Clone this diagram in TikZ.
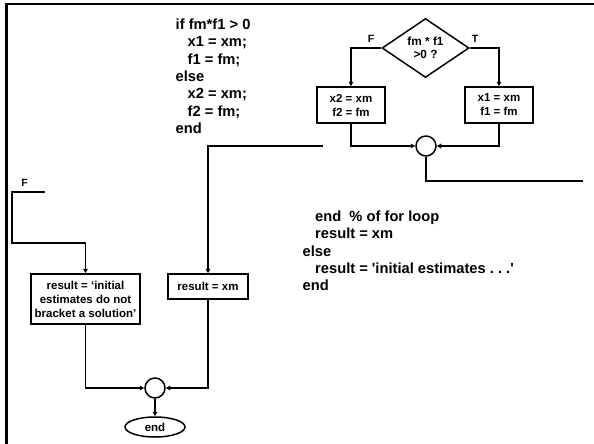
\documentclass[tikz,border=0pt]{standalone}
\usepackage{fontspec}
\setmainfont{Liberation Sans}
\usetikzlibrary{shapes.geometric, arrows.meta, positioning}

\tikzset{
  flowbox/.style={draw, line width=1.5pt, align=center, inner sep=0pt, font=\bfseries\fontsize{11.5}{14}\selectfont},
  decision/.style={draw, diamond, line width=1.5pt, align=center, inner sep=0pt, font=\bfseries\fontsize{11.8}{12.8}\selectfont},
  joint/.style={draw, circle, line width=1.5pt, inner sep=0pt, minimum size=20pt},
  terminal/.style={draw, ellipse, line width=1.5pt, inner sep=0pt, minimum width=60pt, minimum height=20pt, font=\bfseries\fontsize{11.5}{14}\selectfont},
  codetext/.style={anchor=north west, align=left, inner sep=0pt, font=\bfseries\fontsize{14.7}{17.4}\selectfont},
  branchlabel/.style={inner sep=0pt, font=\bfseries\fontsize{10.5}{12}\selectfont},
  flow/.style={line width=1.5pt, -{Triangle[length=4.5pt, width=4.5pt]}},
  wire/.style={line width=1.5pt}
}

\begin{document}
\begin{tikzpicture}[x=1pt, y=-1pt]
    \useasboundingbox (0,0) rectangle (594,444);

    % Slide frame (left and top edge only)
    \draw[line width=2.7pt] (6.7,444) -- (6.7,4) -- (594,4);

    % Code of the inner if
    \node[codetext] (ifcode) at (175.5,18.5) {if fm*f1 > 0\\
        \hspace*{12pt}x1 = xm;\\
        \hspace*{12pt}f1 = fm;\\
        else\\
        \hspace*{12pt}x2 = xm;\\
        \hspace*{12pt}f2 = fm;\\
        end};

    % Decision and its two updates
    \node[decision, minimum width=87pt, minimum height=59pt] (test) at (425.5,48) {fm * f1\\>0 ?};
    \node[branchlabel] (lblF) at (371,38.5) {F};
    \node[branchlabel] (lblT) at (475,38.5) {T};
    \node[flowbox, minimum width=68pt, minimum height=36pt] (upd2) at (351,105) {x2 = xm\\f2 = fm};
    \node[flowbox, minimum width=68pt, minimum height=36pt] (upd1) at (499,105) {x1 = xm\\f1 = fm};
    \node[joint] (join1) at (426,146) {};

    % Code after the loop
    \node[codetext] (tailcode) at (302.5,210.5) {\hspace*{12.5pt}end\ \ \% of for loop\\
        \hspace*{12.5pt}result = xm\\
        else\\
        \hspace*{12.5pt}result = \textquotesingle initial estimates .\ .\ .\textquotesingle\\
        end};

    % Results and end
    \node[branchlabel] (lblF2) at (24.5,183) {F};
    \node[flowbox, minimum width=109pt, minimum height=50pt] (resinit) at (85.5,299) {result = ‘initial\\estimates do not\\bracket a solution’};
    \node[flowbox, minimum width=80pt, minimum height=25pt] (resxm) at (208,286.5) {result = xm};
    \node[joint] (join2) at (155,388) {};
    \node[terminal] (stop) at (155,427) {end};

    % Loose ends of the connectors
    \coordinate (fromLoop) at (45,192);
    \coordinate (loopBend) at (12,243);
    \coordinate (fromIf) at (323,146);
    \coordinate (toLoop) at (583,181);

    % Connectors
    \draw[flow] (test.west) -| (upd2.north);
    \draw[flow] (test.east) -| (upd1.north);
    \draw[flow] (upd2.south) |- (join1.west);
    \draw[flow] (upd1.south) |- (join1.east);
    \draw[wire] (join1.south) |- (toLoop);
    \draw[flow] (fromIf) -| (resxm.north);
    \draw[flow] (fromLoop) -| (loopBend) -| (resinit.north);
    \draw[flow] (resinit.south) |- (join2.west);
    \draw[flow] (resxm.south) |- (join2.east);
    \draw[flow] (join2.south) -- (stop.north);
\end{tikzpicture}
\end{document}
